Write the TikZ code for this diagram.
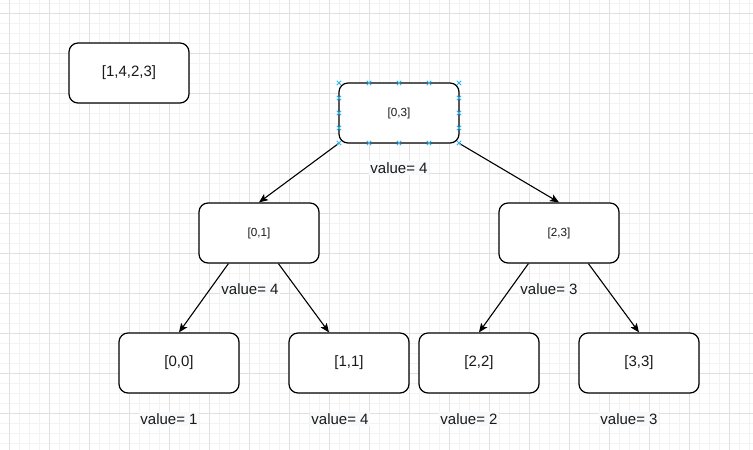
\documentclass[tikz,border=0pt]{standalone}
\usepackage{fontspec}
\setmainfont{Liberation Sans}
\usetikzlibrary{arrows.meta}
\definecolor{gridmaj}{RGB}{224,224,224}
\definecolor{gridmin}{RGB}{243,243,243}
\definecolor{selblue}{RGB}{41,182,242}
\definecolor{lblbg}{RGB}{248,249,250}
\definecolor{txt}{RGB}{26,26,26}
\tikzset{
  box/.style={draw=black, line width=1.2pt, rounded corners=9pt, fill=white,
    minimum width=120pt, minimum height=60pt, inner sep=0pt, text=txt,
    font=\fontsize{15}{18}\selectfont},
  smallbox/.style={box, font=\fontsize{11.7}{14}\selectfont},
  lbl/.style={fill=lblbg, inner sep=1pt, text=txt, font=\fontsize{15}{18}\selectfont},
  conn/.style={draw=black, line width=1.1pt, -{Stealth[length=9pt,width=7.5pt,inset=2pt]}},
  selmark/.style={draw=selblue, line width=0.9pt}
}
\begin{document}
\begin{tikzpicture}[x=1pt,y=-1pt]
\useasboundingbox (0,0) rectangle (753,450);
\fill[white] (0,0) rectangle (753,450);
% grid
\foreach \gx in {9,19,...,749} \draw[gridmin, line width=0.8pt] (\gx,0) -- (\gx,450);
\foreach \gy in {3,13,...,443} \draw[gridmin, line width=0.8pt] (0,\gy) -- (753,\gy);
\foreach \gx in {9,49,...,729} \draw[gridmaj, line width=0.9pt] (\gx,0) -- (\gx,450);
\foreach \gy in {13,53,...,413} \draw[gridmaj, line width=0.9pt] (0,\gy) -- (753,\gy);

% nodes
\node[box] (arr) at (129,73) {[1,4,2,3]};
\node[smallbox] (r03) at (399,113) {[0,3]};
\node[smallbox] (n01) at (259,233) {[0,1]};
\node[smallbox] (n23) at (559,233) {[2,3]};
\node[box] (n00) at (179,363) {[0,0]};
\node[box] (n11) at (349,363) {[1,1]};
\node[box] (n22) at (479,363) {[2,2]};
\node[box] (n33) at (639,363) {[3,3]};

% connectors
\draw[conn] (r03.south west) -- (n01.north);
\draw[conn] (r03.south east) -- (n23.north);
\coordinate (n01a) at ([xshift=30pt]n01.south west);
\coordinate (n01b) at ([xshift=80pt]n01.south west);
\coordinate (n11t) at ([xshift=-20pt]n11.north);
\coordinate (n23a) at ([xshift=30pt]n23.south west);
\coordinate (n23b) at ([xshift=90pt]n23.south west);
\draw[conn] (n01a) -- (n00.north);
\draw[conn] (n01b) -- (n11t);
\draw[conn] (n23a) -- (n22.north);
\draw[conn] (n23b) -- (n33.north);

% labels
\node[lbl] (l03) at (399,168) {value= 4};
\node[lbl] (l01) at (250,289) {value= 4};
\node[lbl] (l23) at (549,289) {value= 3};
\node[lbl] (l00) at (169,419) {value= 1};
\node[lbl] (l11) at (340,419) {value= 4};
\node[lbl] (l22) at (469,419) {value= 2};
\node[lbl] (l33) at (629,419) {value= 3};

% selection handles on root
\foreach \mx in {339,369,399,429,459} {
  \foreach \my in {83,143} {
    \draw[selmark] (\mx-2.2,\my-2.2) -- (\mx+2.2,\my+2.2) (\mx-2.2,\my+2.2) -- (\mx+2.2,\my-2.2);
  }
}
\foreach \my in {98,113,128} {
  \foreach \mx in {339,459} {
    \draw[selmark] (\mx-2.2,\my-2.2) -- (\mx+2.2,\my+2.2) (\mx-2.2,\my+2.2) -- (\mx+2.2,\my-2.2);
  }
}
\end{tikzpicture}
\end{document}
